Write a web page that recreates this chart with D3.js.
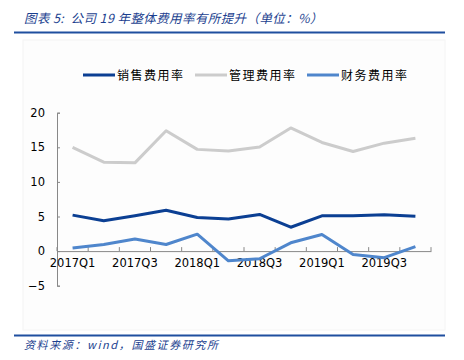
<!DOCTYPE html>
<html><head><meta charset="utf-8">
<script src="https://cdn.jsdelivr.net/npm/d3@7"></script>
<style>body{margin:0;background:#fff}svg{display:block}</style>
</head><body>
<script>
const categories = ["2017Q1","2017Q2","2017Q3","2017Q4","2018Q1","2018Q2","2018Q3","2018Q4","2019Q1","2019Q2","2019Q3","2019Q4"];
const sales = [5.2, 4.4, 5.1, 5.9, 4.85, 4.65, 5.3, 3.45, 5.1, 5.1, 5.25, 5.05];
const admin = [15.0, 12.85, 12.75, 17.4, 14.7, 14.45, 15.05, 17.8, 15.7, 14.4, 15.6, 16.3];
const finance = [0.45, 0.95, 1.75, 0.95, 2.45, -1.4, -1.1, 1.2, 2.4, -0.5, -0.95, 0.65];
const seriesNames = ["销售费用率","管理费用率","财务费用率"];
const seriesColors = ["#0b3f93","#cccccc","#4f86cc"];
const yTicks = [-5, 0, 5, 10, 15, 20];
const xLabelCats = ["2017Q1","2017Q3","2018Q1","2018Q3","2019Q1","2019Q3"];
const title = "图表 5:  公司 19 年整体费用率有所提升（单位：%）";
const source = "资料来源：wind，国盛证券研究所";

const W = 464, H = 360;
const svg = d3.select("body").append("svg").attr("width", W).attr("height", H);

// faint panel
svg.append("rect").attr("x", 23).attr("y", 40).attr("width", 422).attr("height", 290)
  .attr("fill", "#fdfdfd").attr("stroke", "#f4f4f4");

// title
svg.append("text").attr("x", 24).attr("y", 23)
  .attr("font-family", "'Noto Sans CJK SC', sans-serif").attr("font-size", 12.5)
  .attr("font-style", "italic").attr("fill", "#1c3f8f").attr("letter-spacing", 0.4)
  .attr("xml:space", "preserve").style("white-space", "pre").text(title);
svg.append("rect").attr("x", 14).attr("y", 31.5).attr("width", 431).attr("height", 2).attr("fill", "#1f4f9f");

// footer
svg.append("rect").attr("x", 14).attr("y", 334.5).attr("width", 431).attr("height", 2).attr("fill", "#1f4f9f");
svg.append("text").attr("x", 24).attr("y", 349)
  .attr("font-family", "'Noto Sans CJK SC', sans-serif").attr("font-size", 11)
  .attr("font-style", "italic").attr("fill", "#1c3f8f").attr("letter-spacing", 1.6).text(source);

// scales
const x = d3.scaleBand().domain(categories).range([57, 431]);
const y = d3.scaleLinear().domain([-5, 20]).range([285.7, 112.7]);

// y axis
const yAxis = svg.append("g").attr("transform", "translate(57,0)")
  .call(d3.axisLeft(y).tickValues(yTicks).tickSize(-3).tickPadding(12).tickFormat(d3.format("d")));
yAxis.selectAll("path, line").attr("stroke", "#888");
yAxis.selectAll("text").attr("font-family", "'DejaVu Sans', Verdana, sans-serif").attr("font-size", 11.5).attr("fill", "#000");

// x axis at 0
const xAxis = svg.append("g").attr("transform", `translate(0,${y(0)})`)
  .call(d3.axisBottom(x).tickValues([]).tickSizeOuter(0));
xAxis.select("path").attr("stroke", "#888");
const boundaries = categories.map((c) => x(c)).concat([x(categories[categories.length-1]) + x.bandwidth()]);
xAxis.selectAll(".btick").data(boundaries).enter().append("line")
  .attr("x1", d => d).attr("x2", d => d).attr("y1", 0).attr("y2", -4).attr("stroke", "#888");
xAxis.selectAll(".xl").data(xLabelCats).enter().append("text")
  .attr("x", d => x(d) + x.bandwidth()/2).attr("y", 15.5)
  .attr("text-anchor", "middle")
  .attr("font-family", "'DejaVu Sans', Verdana, sans-serif").attr("font-size", 11.5).attr("fill", "#000")
  .text(d => d);

// lines
const line = d3.line().x((d, i) => x(categories[i]) + x.bandwidth()/2).y(d => y(d));
const allSeries = [sales, admin, finance];
[1, 0, 2].forEach(k => {
  svg.append("path").datum(allSeries[k]).attr("d", line)
    .attr("fill", "none").attr("stroke", seriesColors[k]).attr("stroke-width", 3)
    .attr("stroke-linejoin", "round");
});

// legend
const legendX = [83, 195, 307];
seriesNames.forEach((n, k) => {
  svg.append("line").attr("x1", legendX[k]).attr("x2", legendX[k] + 32).attr("y1", 75).attr("y2", 75)
    .attr("stroke", seriesColors[k]).attr("stroke-width", 3);
  svg.append("text").attr("x", legendX[k] + 34).attr("y", 79.5)
    .attr("font-family", "'Noto Sans CJK SC', sans-serif").attr("font-size", 12).attr("fill", "#000")
    .attr("letter-spacing", 1.5).text(n);
});
</script>
</body></html>
